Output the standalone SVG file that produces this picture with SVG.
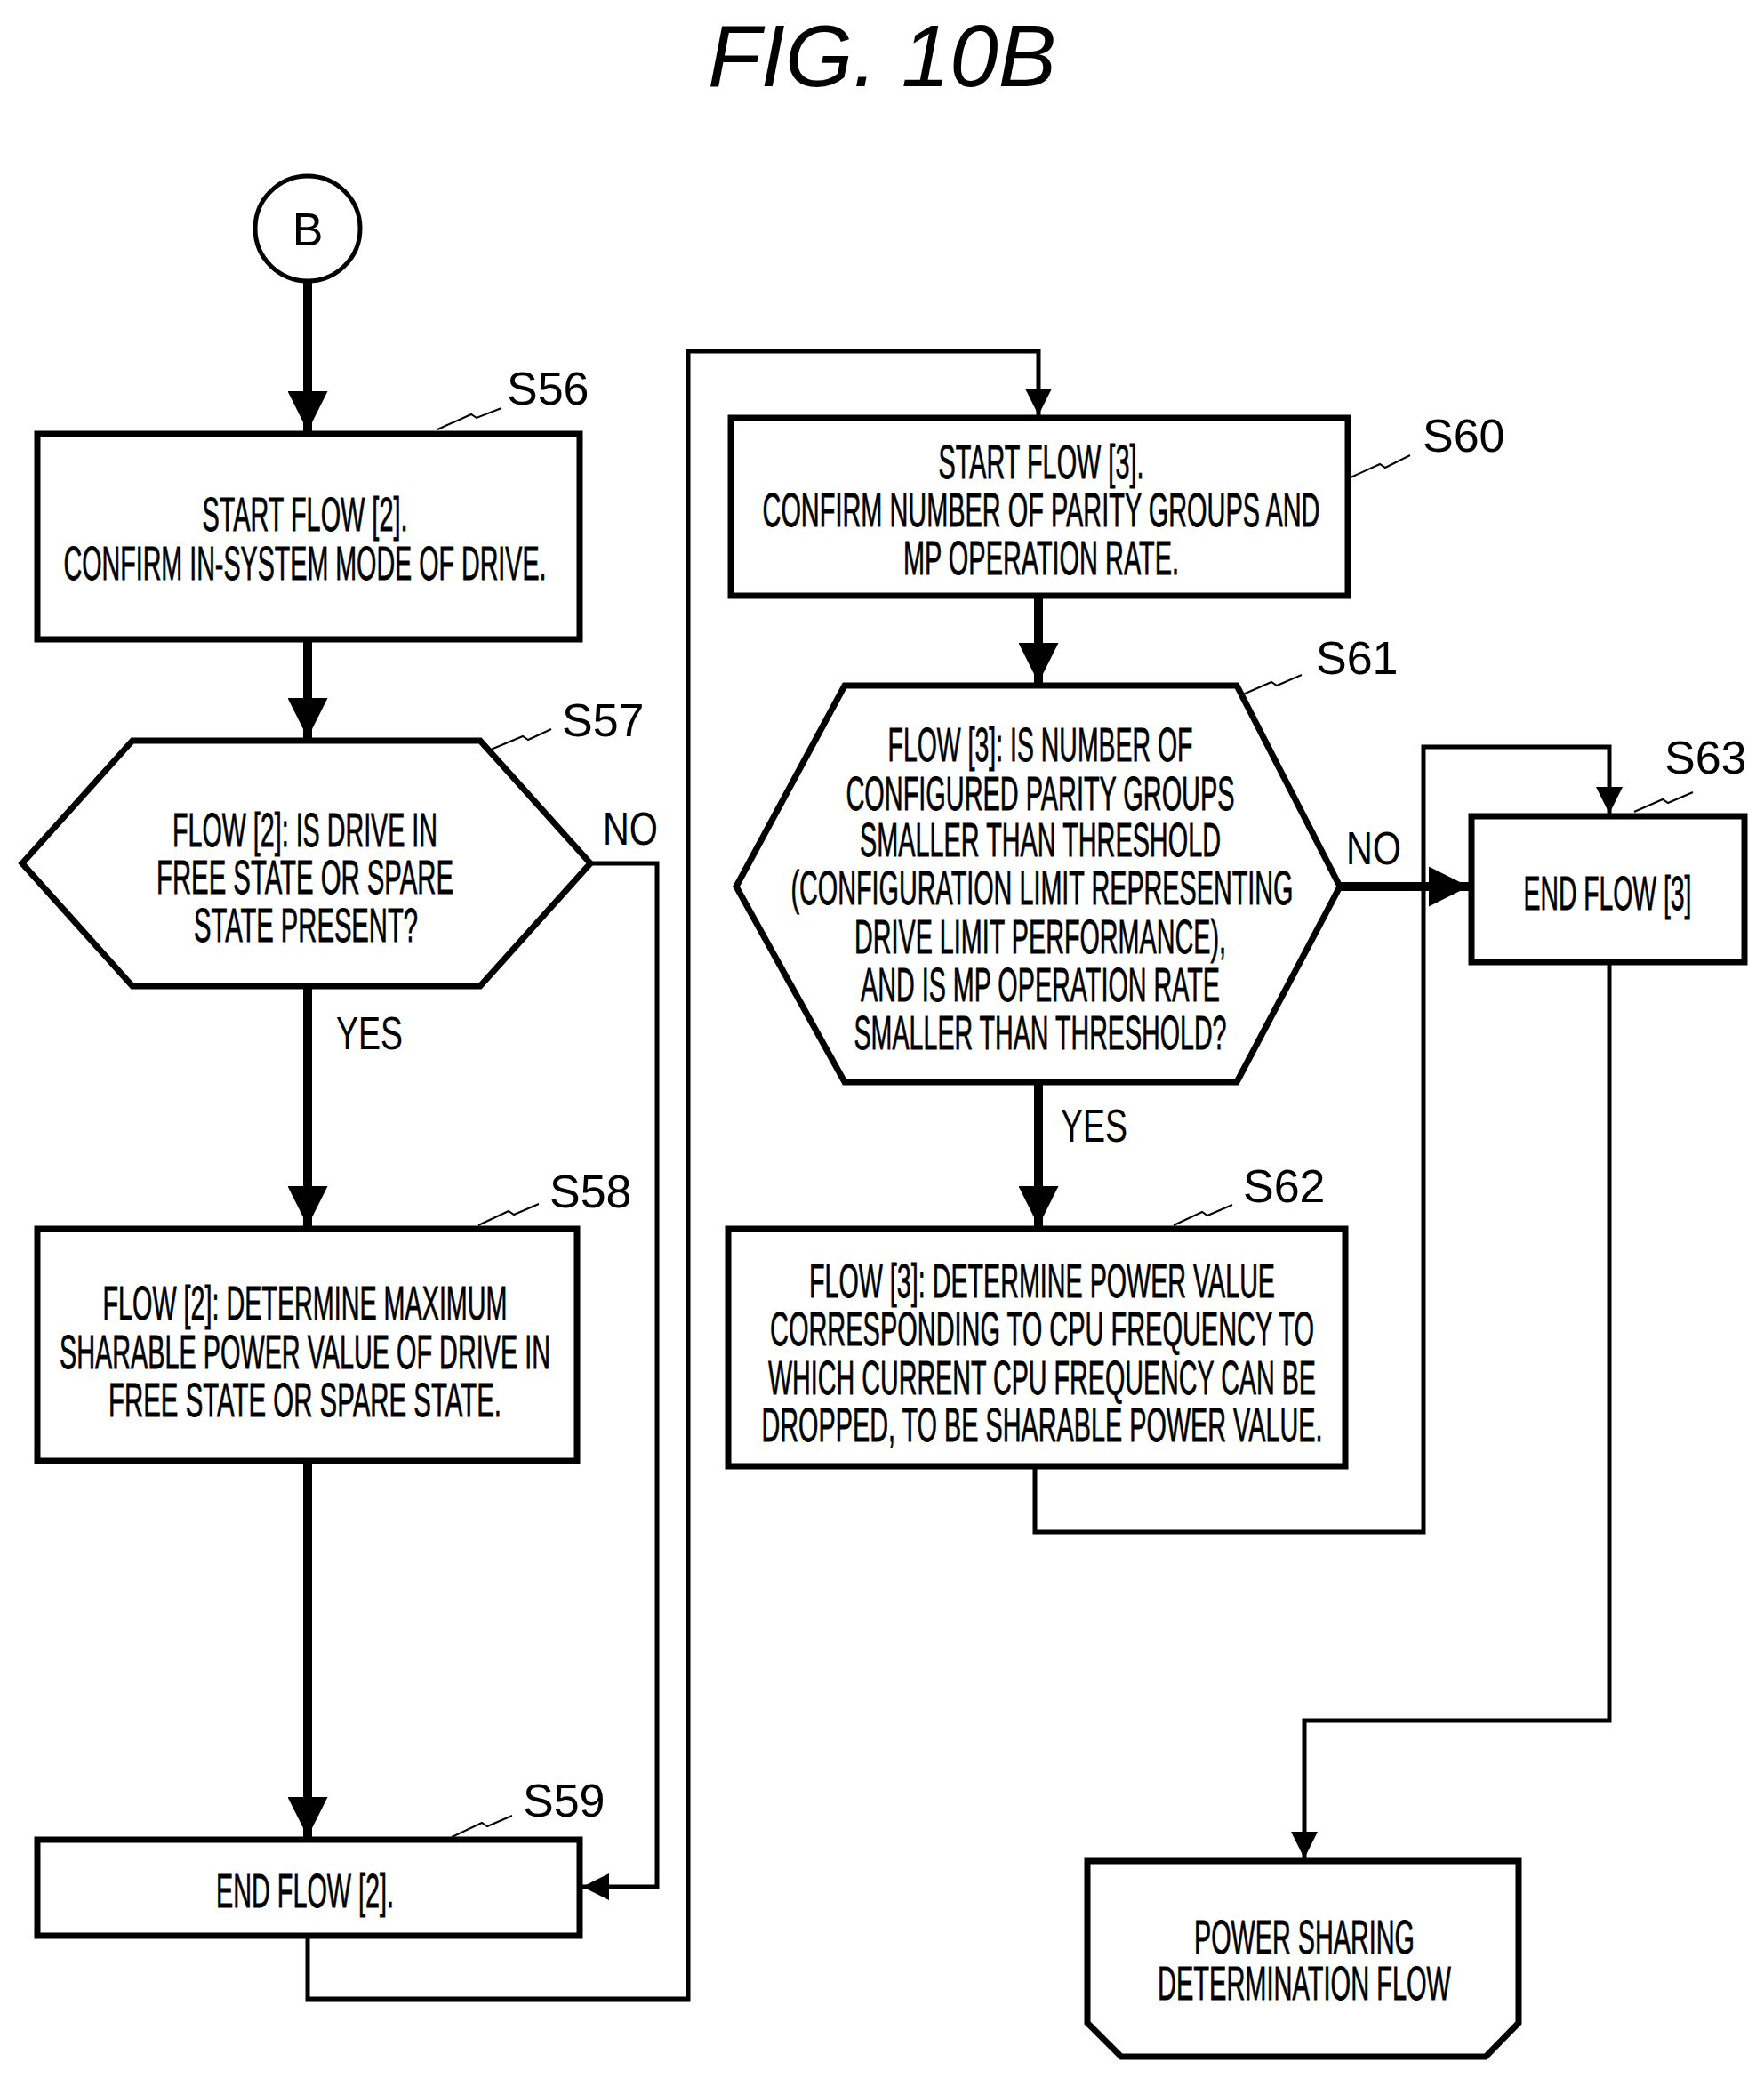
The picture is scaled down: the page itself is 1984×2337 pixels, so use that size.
<svg xmlns="http://www.w3.org/2000/svg" width="1984" height="2337" viewBox="0 0 1984 2337">
<defs>
<marker id="ah" viewBox="0 0 10 10" refX="10" refY="5" markerWidth="4.5" markerHeight="4.5" markerUnits="strokeWidth" orient="auto"><path d="M0,0 L10,5 L0,10 z" fill="#000"/></marker>
<marker id="ahs" viewBox="0 0 10 10" refX="10" refY="5" markerWidth="6" markerHeight="6" markerUnits="strokeWidth" orient="auto"><path d="M0,0 L10,5 L0,10 z" fill="#000"/></marker>
<style>
.n{fill:#fff;stroke:#000;stroke-width:7}
.t{font-family:"Liberation Sans",Arial,sans-serif;font-size:54px;text-anchor:middle;fill:#000;stroke:#000;stroke-width:0.8}
.l{font-family:"Liberation Sans",Arial,sans-serif;font-size:52px;fill:#000}
.sq{fill:none;stroke:#000;stroke-width:2}
.thick{fill:none;stroke:#000;stroke-width:10}
.thin{fill:none;stroke:#000;stroke-width:5}
</style>
</defs>
<rect width="1984" height="2337" fill="#fff"/>
<text x="992" y="97" font-family="Liberation Sans,Arial,sans-serif" font-size="98" font-style="italic" text-anchor="middle">FIG. 10B</text>

<g id="connectors">
<path class="thick" d="M346,317 V485" marker-end="url(#ah)"/>
<path class="thick" d="M346,719 V830" marker-end="url(#ah)"/>
<path class="thick" d="M346,1109 V1379" marker-end="url(#ah)"/>
<path class="thick" d="M346,1643 V2066" marker-end="url(#ah)"/>
<path class="thin" d="M664,971 H739 V2122 H655" marker-end="url(#ahs)"/>
<path class="thin" d="M346,2177 V2248 H774 V395 H1168 V467" marker-end="url(#ahs)"/>
<path class="thick" d="M1168,670 V768" marker-end="url(#ah)"/>
<path class="thick" d="M1168,1217 V1379" marker-end="url(#ah)"/>
<path class="thick" d="M1507,997 H1652" marker-end="url(#ah)"/>
<path class="thin" d="M1164,1649 V1723 H1601 V840 H1810 V915" marker-end="url(#ahs)"/>
<path class="thin" d="M1810,1082 V1935 H1467 V2090" marker-end="url(#ahs)"/>
<text class="l" x="678" y="950" textLength="62" lengthAdjust="spacingAndGlyphs">NO</text>
<text class="l" x="378" y="1180" textLength="75" lengthAdjust="spacingAndGlyphs">YES</text>
<text class="l" x="1514" y="972" textLength="62" lengthAdjust="spacingAndGlyphs">NO</text>
<text class="l" x="1193" y="1284" textLength="75" lengthAdjust="spacingAndGlyphs">YES</text>
</g>

<g id="B">
<circle cx="346" cy="257" r="59" fill="#fff" stroke="#000" stroke-width="5"/>
<text class="l" x="346" y="276" font-size="50" text-anchor="middle">B</text>
</g>

<g id="S56">
<rect class="n" x="42" y="488" width="610" height="231"/>
<text class="t" x="343" y="597" textLength="231" lengthAdjust="spacingAndGlyphs">START FLOW [2].</text>
<text class="t" x="343" y="652" textLength="543" lengthAdjust="spacingAndGlyphs">CONFIRM IN-SYSTEM MODE OF DRIVE.</text>
<path class="sq" d="M492,483 L530,466 L536,470 L564,459"/>
<text class="l" x="570" y="455">S56</text>
</g>

<g id="S57">
<polygon class="n" points="25,971 149,833 540,833 664,971 540,1109 149,1109"/>
<text class="t" x="343" y="952" textLength="298" lengthAdjust="spacingAndGlyphs">FLOW [2]: IS DRIVE IN</text>
<text class="t" x="343" y="1005" textLength="334" lengthAdjust="spacingAndGlyphs">FREE STATE OR SPARE</text>
<text class="t" x="344" y="1059" textLength="252" lengthAdjust="spacingAndGlyphs">STATE PRESENT?</text>
<path class="sq" d="M552,843 L588,828 L594,832 L620,820"/>
<text class="l" x="632" y="828">S57</text>
</g>

<g id="S58">
<rect class="n" x="42" y="1382" width="607" height="261"/>
<text class="t" x="343" y="1484" textLength="455" lengthAdjust="spacingAndGlyphs">FLOW [2]: DETERMINE MAXIMUM</text>
<text class="t" x="343" y="1539" textLength="552" lengthAdjust="spacingAndGlyphs">SHARABLE POWER VALUE OF DRIVE IN</text>
<text class="t" x="343" y="1593" textLength="442" lengthAdjust="spacingAndGlyphs">FREE STATE OR SPARE STATE.</text>
<path class="sq" d="M538,1378 L572,1362 L578,1366 L606,1354"/>
<text class="l" x="618" y="1358">S58</text>
</g>

<g id="S59">
<rect class="n" x="42" y="2069" width="610" height="108"/>
<text class="t" x="343" y="2145" textLength="200" lengthAdjust="spacingAndGlyphs">END FLOW [2].</text>
<path class="sq" d="M508,2066 L542,2050 L548,2054 L576,2042"/>
<text class="l" x="588" y="2043">S59</text>
</g>

<g id="S60">
<rect class="n" x="822" y="470" width="694" height="200"/>
<text class="t" x="1171" y="538" textLength="231" lengthAdjust="spacingAndGlyphs">START FLOW [3].</text>
<text class="t" x="1171" y="592" textLength="627" lengthAdjust="spacingAndGlyphs">CONFIRM NUMBER OF PARITY GROUPS AND</text>
<text class="t" x="1171" y="646" textLength="310" lengthAdjust="spacingAndGlyphs">MP OPERATION RATE.</text>
<path class="sq" d="M1519,537 L1552,522 L1558,526 L1586,512"/>
<text class="l" x="1600" y="508">S60</text>
</g>

<g id="S61">
<polygon class="n" points="828,997 950,771 1391,771 1507,997 1391,1217 950,1217"/>
<text class="t" x="1170" y="856" textLength="343" lengthAdjust="spacingAndGlyphs">FLOW [3]: IS NUMBER OF</text>
<text class="t" x="1170" y="911" textLength="437" lengthAdjust="spacingAndGlyphs">CONFIGURED PARITY GROUPS</text>
<text class="t" x="1170" y="963" textLength="406" lengthAdjust="spacingAndGlyphs">SMALLER THAN THRESHOLD</text>
<text class="t" x="1172" y="1017" textLength="565" lengthAdjust="spacingAndGlyphs">(CONFIGURATION LIMIT REPRESENTING</text>
<text class="t" x="1170" y="1072" textLength="418" lengthAdjust="spacingAndGlyphs">DRIVE LIMIT PERFORMANCE),</text>
<text class="t" x="1170" y="1126" textLength="404" lengthAdjust="spacingAndGlyphs">AND IS MP OPERATION RATE</text>
<text class="t" x="1170" y="1180" textLength="419" lengthAdjust="spacingAndGlyphs">SMALLER THAN THRESHOLD?</text>
<path class="sq" d="M1398,781 L1430,767 L1436,771 L1464,759"/>
<text class="l" x="1480" y="758">S61</text>
</g>

<g id="S62">
<rect class="n" x="819" y="1382" width="694" height="267"/>
<text class="t" x="1172" y="1459" textLength="524" lengthAdjust="spacingAndGlyphs">FLOW [3]: DETERMINE POWER VALUE</text>
<text class="t" x="1172" y="1513" textLength="612" lengthAdjust="spacingAndGlyphs">CORRESPONDING TO CPU FREQUENCY TO</text>
<text class="t" x="1172" y="1568" textLength="616" lengthAdjust="spacingAndGlyphs">WHICH CURRENT CPU FREQUENCY CAN BE</text>
<text class="t" x="1172" y="1621" textLength="631" lengthAdjust="spacingAndGlyphs">DROPPED, TO BE SHARABLE POWER VALUE.</text>
<path class="sq" d="M1320,1378 L1352,1363 L1358,1367 L1386,1355"/>
<text class="l" x="1398" y="1352">S62</text>
</g>

<g id="S63">
<rect class="n" x="1655" y="918" width="307" height="164"/>
<text class="t" x="1808" y="1023" textLength="189" lengthAdjust="spacingAndGlyphs">END FLOW [3]</text>
<path class="sq" d="M1838,913 L1870,899 L1876,903 L1904,891"/>
<text class="l" x="1872" y="870">S63</text>
</g>

<g id="PSDF">
<path class="n" d="M1223,2093 H1708 V2275 L1671,2313 H1261 L1223,2275 Z"/>
<text class="t" x="1467" y="2197" textLength="248" lengthAdjust="spacingAndGlyphs">POWER SHARING</text>
<text class="t" x="1467" y="2249" textLength="330" lengthAdjust="spacingAndGlyphs">DETERMINATION FLOW</text>
</g>
</svg>
